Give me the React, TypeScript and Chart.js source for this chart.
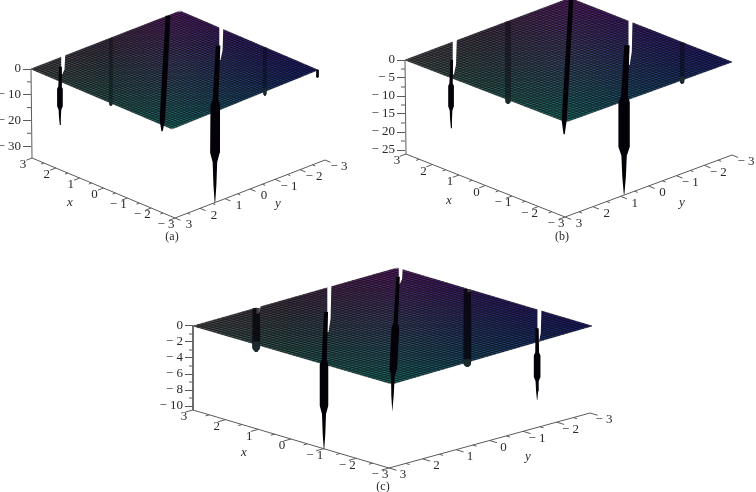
import React, { useEffect, useRef } from "react";
import { Chart, registerables } from "chart.js";

Chart.register(...registerables);

// ---- values ----
const aZTicks = [0, -10, -20, -30];
const bZTicks = [0, -5, -10, -15, -20, -25];
const cZTicks = [0, -2, -4, -6, -8, -10];
const xTicks = [3, 2, 1, 0, -1, -2, -3];
const yTicks = [3, 2, 1, 0, -1, -2, -3];

// Each trough: place on x+y, drift toward the far edge, depth below the near edge,
// length of the white tear from the far edge, half width (x+y units), darkness
const aTroughQ = [4.79, 2.66, 0.52, -1.69, -3.78, -5.98];
const aTroughDrift = [-0.04, 0, -0.25, -0.17, 0, 0];
const aTroughDepth = [-17, -1.2, -2.5, -35.6, -1.8, -3];
const aTroughTear = [6.6, 0, 0, 12.6, 0, 0];
const aTroughWidth = [0.125, 0.08, 0.11, 0.21, 0.08, 0.06];
const aTroughInk = [1, 0.35, 1, 1, 0.35, 1];

const bTroughQ = [4.31, 2.22, 0.16, -2.04, -4.17];
const bTroughDrift = [-0.05, 0, -0.26, -0.15, 0];
const bTroughDepth = [-14, -1.2, -3.6, -26, -1.1];
const bTroughTear = [9, 0, 0, 12.2, 0];
const bTroughWidth = [0.11, 0.11, 0.09, 0.22, 0.09];
const bTroughInk = [1, 0.4, 1, 1, 0.4];

const cTroughQ = [4.1, 2.06, 0, -2.25, -4.35];
const cTroughDrift = [0, -0.09, -0.18, 0, 0];
const cTroughDepth = [-0.95, -10.7, -3.5, -0.6, -7.25];
const cTroughTear = [0.7, 5.5, 1.9, 0.4, 4.2];
const cTroughWidth = [0.12, 0.135, 0.12, 0.12, 0.105];
const cTroughInk = [0.75, 1, 1, 0.75, 1];

type Pt = [number, number];
type Geo = {
  left: number; top: number; w: number; h: number;
  L: Pt; F: Pt; R: Pt; B: Pt; bL: Pt; bF: Pt; bR: Pt;
  pxPerZ: number; zTicks: number[];
  q: number[]; drift: number[]; depth: number[]; tear: number[]; width: number[]; ink: number[];
  xTitle: Pt; yTitle: Pt; caption: Pt; captionText: string;
};

// panel layout in page pixels
const panels: Geo[] = [
  {
    left: 0, top: 0, w: 360, h: 250,
    L: [31, 69], F: [172, 129], R: [318, 70], B: [180, 11],
    bL: [32, 158], bF: [175, 218], bR: [325, 160],
    pxPerZ: 2.57, zTicks: aZTicks,
    q: aTroughQ, drift: aTroughDrift, depth: aTroughDepth, tear: aTroughTear, width: aTroughWidth, ink: aTroughInk,
    xTitle: [70, 203], yTitle: [278, 204], caption: [172, 237], captionText: "(a)",
  },
  {
    left: 360, top: 0, w: 396, h: 250,
    L: [405, 60], F: [566, 122], R: [732, 62], B: [570, -2],
    bL: [406, 154], bF: [565, 217], bR: [732, 155],
    pxPerZ: 3.6, zTicks: bZTicks,
    q: bTroughQ, drift: bTroughDrift, depth: bTroughDepth, tear: bTroughTear, width: bTroughWidth, ink: bTroughInk,
    xTitle: [449, 201], yTitle: [682, 203], caption: [562, 237], captionText: "(b)",
  },
  {
    left: 140, top: 250, w: 476, h: 242,
    L: [193, 326], F: [392, 384], R: [592, 326], B: [397, 268],
    bL: [193, 410], bF: [389, 468], bR: [590, 413],
    pxPerZ: 8, zTicks: cZTicks,
    q: cTroughQ, drift: cTroughDrift, depth: cTroughDepth, tear: cTroughTear, width: cTroughWidth, ink: cTroughInk,
    xTitle: [244, 453], yTitle: [528, 457], caption: [383, 487], captionText: "(c)",
  },
];

const lerp = (a: number, b: number, t: number) => a + (b - a) * t;
const lerpPt = (a: Pt, b: Pt, t: number): Pt => [lerp(a[0], b[0], t), lerp(a[1], b[1], t)];
const edgeY = (a: Pt, m: Pt, b: Pt, x: number) =>
  x <= m[0] ? lerp(a[1], m[1], (x - a[0]) / (m[0] - a[0])) : lerp(m[1], b[1], (x - m[0]) / (b[0] - m[0]));

const STOPS_FAR = [[80, 80, 82], [70, 56, 76], [92, 34, 106], [54, 34, 110], [32, 32, 112]];
const STOPS_NEAR = [[80, 80, 82], [48, 92, 88], [32, 110, 104], [32, 72, 108], [32, 32, 112]];
const mix = (s: number[][], t: number) => {
  const p = Math.min(0.9999, Math.max(0, t)) * (s.length - 1);
  const i = Math.floor(p);
  const f = p - i;
  return s[i].map((v, k) => Math.round(lerp(v, s[i + 1][k], f)));
};
const rgb = (c: number[]) => `rgb(${c[0]},${c[1]},${c[2]})`;

function buildDatasets(g: Geo) {
  const toV = (p: Pt) => ({ x: p[0] - g.left, y: (g.L[1] - p[1]) / g.pxPerZ });
  const sets: any[] = [];
  const poly = (pts: Pt[], color: any) =>
    sets.push({
      data: pts.map(toV), showLine: true, fill: "shape", backgroundColor: color,
      borderWidth: 0, borderColor: "transparent", pointRadius: 0, clip: false, tension: 0,
    });
  const line = (pts: (Pt | null)[], color: string, width: number) =>
    sets.push({
      data: pts.map((p) => (p ? toV(p) : { x: NaN, y: NaN })), showLine: true, fill: false,
      borderColor: color, borderWidth: width, pointRadius: 0, clip: false, tension: 0, spanGaps: false,
    });

  // surface, in narrow upright strips shaded from far edge to near edge
  const step = 5;
  for (let x = g.L[0]; x < g.R[0]; x += step) {
    const x2 = Math.min(g.R[0], x + step + 0.6);
    const xm = (x + x2) / 2;
    const t = (xm - g.L[0]) / (g.R[0] - g.L[0]);
    const yTop = edgeY(g.L, g.B, g.R, xm);
    const yBot = edgeY(g.L, g.F, g.R, xm);
    const far = rgb(mix(STOPS_FAR, t));
    const near = rgb(mix(STOPS_NEAR, t));
    const gradient = (ctx: any) => {
      const c = ctx.chart.ctx as CanvasRenderingContext2D;
      const gr = c.createLinearGradient(0, yTop - g.top, 0, yBot - g.top);
      gr.addColorStop(0, far);
      gr.addColorStop(1, near);
      return gr;
    };
    poly(
      [
        [x, edgeY(g.L, g.B, g.R, x)],
        [x2, edgeY(g.L, g.B, g.R, x2)],
        [x2, edgeY(g.L, g.F, g.R, x2)],
        [x, edgeY(g.L, g.F, g.R, x)],
      ],
      gradient
    );
  }

  // surface mesh
  const cells = 50;
  for (let i = 0; i <= cells; i++) {
    const u = i / cells;
    line([lerpPt(g.L, g.B, u), lerpPt(g.F, g.R, u)], "rgba(0,0,0,0.55)", 0.9);
    line([lerpPt(g.L, g.F, u), lerpPt(g.B, g.R, u)], "rgba(0,0,0,0.55)", 0.9);
  }

  // troughs
  const pxOfQ = (q: number) => g.L[0] + ((6 - q) / 12) * (g.R[0] - g.L[0]);
  const perQ = (g.R[0] - g.L[0]) / 12;
  g.q.forEach((q, i) => {
    const xNear = pxOfQ(q);
    const xFar = pxOfQ(q + g.drift[i]);
    const hw = g.width[i] * perQ;
    const yFar = edgeY(g.L, g.B, g.R, xFar);
    const yNear = edgeY(g.L, g.F, g.R, xNear);
    const yTip = yNear - g.depth[i] * g.pxPerZ;
    const tearLen = g.tear[i] * g.pxPerZ;
    const deep = tearLen > 12;
    if (tearLen > 0) {
      poly(
        [
          [xFar + 0.3, yFar - 3],
          [xFar + 4.4, yFar - 3],
          [xFar + 3.6, yFar + tearLen * 0.7],
          [xFar + 1.5, yFar + tearLen],
          [xFar + 0.3, yFar + tearLen],
        ],
        "#ffffff"
      );
    }
    const yStart = deep ? yFar + tearLen * 0.55 : yFar;
    const xAt = (y: number) => lerp(xFar, xNear, Math.min(1, Math.max(0, (y - yFar) / Math.max(1, yNear - yFar))));
    const profile = deep ? [0, 0.34, 0.38, 0.68, 0.74, 0.88, 1] : [0, 0.5, 0.9, 1];
    const span = deep ? [0.45, 0.55, 0.95, 0.95, 0.45, 0.3, 0.05] : [0.9, 1, 1, 0.25];
    const lefts: Pt[] = [];
    const rights: Pt[] = [];
    profile.forEach((f, k) => {
      const y = lerp(yStart, yTip, f);
      lefts.push([xAt(y) - hw * span[k], y]);
      rights.unshift([xAt(y) + hw * span[k], y]);
    });
    poly([...lefts, ...rights], `rgba(4,2,8,${g.ink[i]})`);
    if (g.ink[i] < 1) {
      // the part hanging below the near edge stays dark on the white ground
      poly(
        [
          [xNear - hw, yNear - 3],
          [xNear + hw, yNear - 3],
          [xNear + hw * 0.9, lerp(yNear, yTip, 0.6)],
          [xNear + hw * 0.25, yTip],
          [xNear - hw * 0.25, yTip],
          [xNear - hw * 0.9, lerp(yNear, yTip, 0.6)],
        ],
        "#1a2a2c"
      );
    }
  });

  // axes of the box
  const axis = "#5a5a5a";
  line([g.L, g.bL], axis, 1);
  line([g.bL, g.bF], axis, 1);
  line([g.bF, g.bR], axis, 1);

  const xOut: Pt = [(g.bF[0] - g.bR[0]) / 160, (g.bF[1] - g.bR[1]) / 160];
  const yOut: Pt = [(g.bF[0] - g.bL[0]) / 155, (g.bF[1] - g.bL[1]) / 155];
  const onX = (v: number) => lerpPt(g.bL, g.bF, (3 - v) / 6);
  const onY = (v: number) => lerpPt(g.bF, g.bR, (3 - v) / 6);
  const segs: (Pt | null)[] = [];
  xTicks.forEach((v) => {
    const p = onX(v);
    segs.push(p, [p[0] + xOut[0] * 6, p[1] + xOut[1] * 6], null);
    if (v > -3) {
      const m = onX(v - 0.5);
      segs.push(m, [m[0] + xOut[0] * 3, m[1] + xOut[1] * 3], null);
    }
  });
  yTicks.forEach((v) => {
    const p = onY(v);
    segs.push(p, [p[0] + yOut[0] * 6, p[1] + yOut[1] * 6], null);
    if (v > -3) {
      const m = onY(v - 0.5);
      segs.push(m, [m[0] + yOut[0] * 3, m[1] + yOut[1] * 3], null);
    }
  });
  // minor marks on the z axis
  const zTop = g.zTicks[0];
  const zBottom = g.zTicks[g.zTicks.length - 1];
  const minorStep = Math.abs(g.zTicks[1] - g.zTicks[0]) / 2;
  for (let z = zTop; z >= zBottom - 1e-6; z -= minorStep) {
    if (g.zTicks.includes(z)) continue;
    const y = g.L[1] - z * g.pxPerZ;
    segs.push([g.L[0], y], [g.L[0] - 4, y], null);
  }
  line(segs, axis, 1);

  // later entries paint on top
  sets.forEach((s, i) => (s.order = sets.length - i));
  return sets;
}

const fmt = (v: number) => (v < 0 ? `\u2212 ${Math.abs(v)}` : `${v}`);

function makeChart(canvas: HTMLCanvasElement, g: Geo) {
  const axisX = g.L[0] - g.left;
  const zeroY = g.L[1] - g.top;
  const labelsPlugin = {
    id: "boxLabels",
    afterDraw(chart: any) {
      const c = chart.ctx as CanvasRenderingContext2D;
      c.save();
      c.fillStyle = "#2a2a2a";
      c.textAlign = "center";
      c.textBaseline = "middle";
      c.font = "13px 'Liberation Serif'";
      xTicks.forEach((v) => {
        const p = lerpPt(g.bL, g.bF, (3 - v) / 6);
        c.fillText(fmt(v), p[0] - g.left - 9, p[1] - g.top + 7);
      });
      yTicks.forEach((v) => {
        const p = lerpPt(g.bF, g.bR, (3 - v) / 6);
        c.fillText(fmt(v), p[0] - g.left + 14, p[1] - g.top + 7);
      });
      c.font = "italic 13px 'Liberation Serif'";
      c.fillText("x", g.xTitle[0] - g.left, g.xTitle[1] - g.top);
      c.fillText("y", g.yTitle[0] - g.left, g.yTitle[1] - g.top);
      c.font = "12px 'Liberation Serif'";
      c.fillText(g.captionText, g.caption[0] - g.left, g.caption[1] - g.top);
      c.restore();
    },
  };
  return new Chart(canvas, {
    type: "scatter",
    data: { datasets: buildDatasets(g) },
    plugins: [labelsPlugin],
    options: {
      animation: false,
      responsive: false,
      maintainAspectRatio: false,
      devicePixelRatio: 1,
      layout: { padding: 0 },
      events: [],
      plugins: { legend: { display: false }, tooltip: { enabled: false }, title: { display: false } },
      scales: {
        x: { type: "linear", display: false, min: axisX, max: g.w },
        y: {
          type: "linear",
          min: -(g.h - zeroY) / g.pxPerZ,
          max: zeroY / g.pxPerZ,
          border: { display: false },
          grid: { drawOnChartArea: false, drawTicks: true, tickLength: 8, color: "#5a5a5a" },
          ticks: {
            autoSkip: false, padding: 2, color: "#2a2a2a",
            font: { family: "Liberation Serif", size: 13 },
            callback: (v: any) => fmt(Number(v)),
          },
          afterBuildTicks: (a: any) => { a.ticks = g.zTicks.map((value) => ({ value })); },
          afterFit: (a: any) => { a.width = axisX; a.paddingTop = 0; a.paddingBottom = 0; a.paddingLeft = 0; a.paddingRight = 0; },
        },
      },
    },
  } as any);
}

export default function App() {
  const refs = useRef<(HTMLCanvasElement | null)[]>([]);
  useEffect(() => {
    const charts = panels.map((g, i) => makeChart(refs.current[i] as HTMLCanvasElement, g));
    return () => charts.forEach((c) => c.destroy());
  }, []);
  return (
    <div style={{ position: "absolute", left: 0, top: 0, width: 756, height: 492, overflow: "hidden", background: "#fff" }}>
      {panels.map((g, i) => (
        <canvas
          key={g.captionText}
          ref={(el) => { refs.current[i] = el; }}
          width={g.w}
          height={g.h}
          style={{ position: "absolute", left: g.left, top: g.top, width: g.w, height: g.h, filter: "blur(0.45px)" }}
        />
      ))}
    </div>
  );
}
